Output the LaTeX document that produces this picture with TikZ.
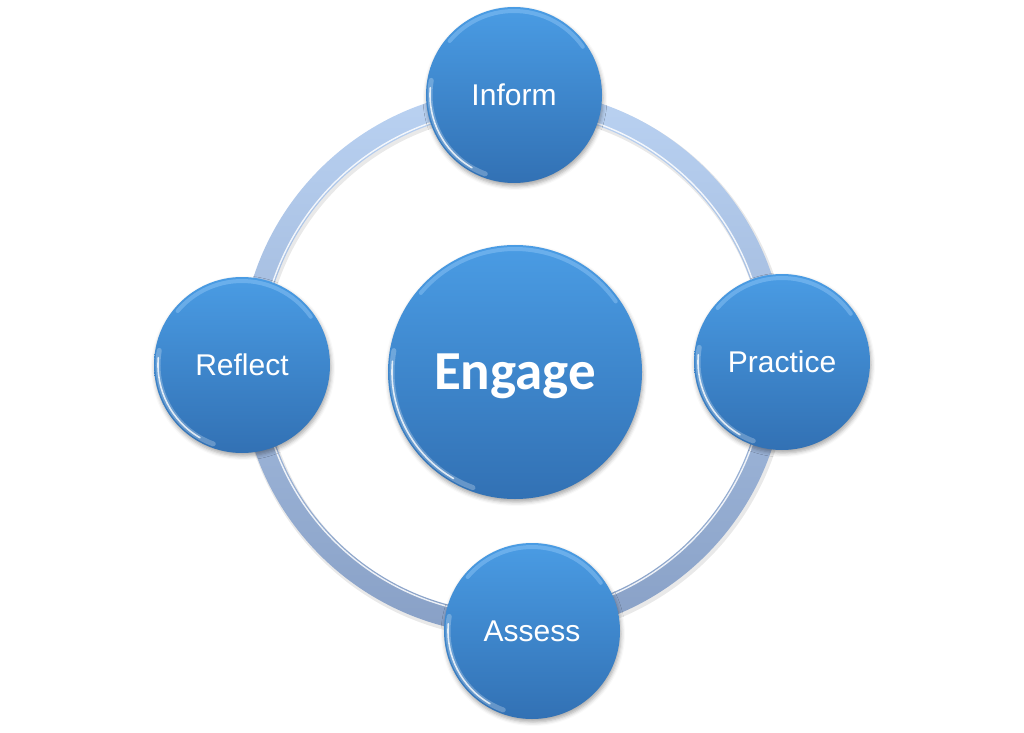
\documentclass[tikz,border=0pt]{standalone}
\usepackage{fontspec}
\setmainfont{Liberation Sans}
\newfontfamily\engfont{Carlito}
\usetikzlibrary{shadows.blur,calc}
\definecolor{btop}{RGB}{74,156,228}
\definecolor{bbot}{RGB}{50,113,180}
\definecolor{rtop}{RGB}{186,210,242}
\definecolor{rbot}{RGB}{136,160,198}
\definecolor{rimblue}{RGB}{170,215,255}
\tikzset{
  bubble/.style={circle, inner sep=0pt, draw=none, top color=btop, bottom color=bbot,
    text=white, text depth=0pt, minimum size=176pt,
    font=\fontsize{30}{30}\selectfont,
    blur shadow={shadow xshift=1pt, shadow yshift=-3pt, shadow blur radius=4pt, shadow opacity=35}},
  bigbubble/.style={bubble, minimum size=254pt, font=\engfont\bfseries\fontsize{55}{55}\selectfont},
  rimsoft/.style={white, line width=5pt, opacity=0.25, line cap=round},
  rimlight/.style={white, line width=1.6pt, opacity=0.8, line cap=round},
  rimtop/.style={rimblue, line width=4pt, opacity=0.35, line cap=round},
}
\begin{document}
\begin{tikzpicture}[x=1pt,y=1pt]
\useasboundingbox (0,0) rectangle (1024,732);
\coordinate (c) at (513,370);
% ring
\fill[black!25, opacity=0.35, even odd rule] ($(c)+(1.5,-2.5)$) circle[radius=274.5] ($(c)+(1.5,-2.5)$) circle[radius=250];
\shade[top color=rtop, bottom color=rbot, even odd rule] (c) circle[radius=273] (c) circle[radius=251];
\draw[white, line width=1.4pt, opacity=0.85] (c) circle[radius=253];
% nodes
\node[bubble] (inform) at (514,637) {Inform};
\node[bubble] (practice) at (782,370) {Practice};
\node[bubble] (assess) at (532,101) {Assess};
\node[bubble] (reflect) at (242,367) {Reflect};
\node[bigbubble] (engage) at (515,360) {Engage};
% rim highlights
\foreach \n/\r in {inform/84, practice/84, assess/84, reflect/84, engage/123}{
  \draw[rimsoft] ($(\n)+(170:\r)$) arc[start angle=170, end angle=250, radius=\r];
  \draw[rimlight] ($(\n)+(175:\r)$) arc[start angle=175, end angle=240, radius=\r];
  \draw[rimtop] ($(\n)+(35:\r)$) arc[start angle=35, end angle=140, radius=\r];
}
\end{tikzpicture}
\end{document}
